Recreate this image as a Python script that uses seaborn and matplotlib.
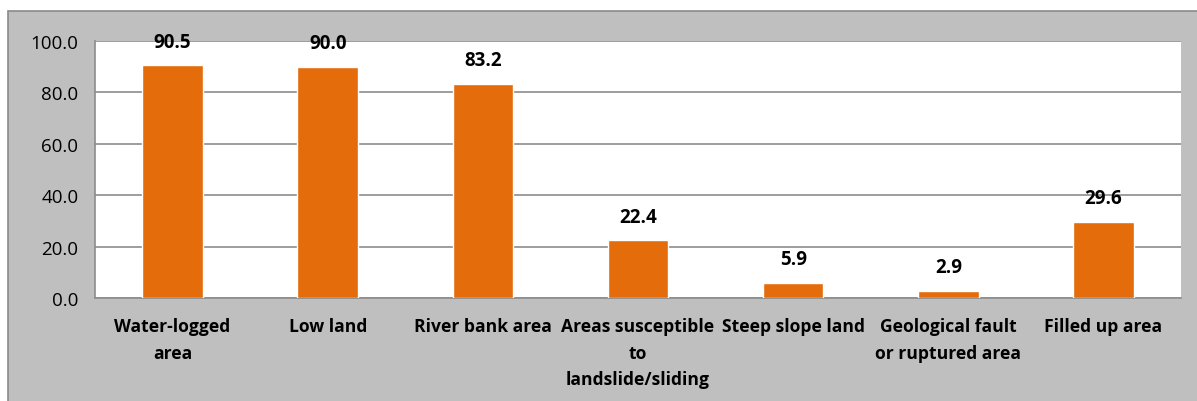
import seaborn as sns
import pandas as pd
import matplotlib.pyplot as plt
from matplotlib.patches import Rectangle
from matplotlib.ticker import FormatStrFormatter

categories = ['Water-logged\narea', 'Low land', 'River bank area',
              'Areas susceptible\nto\nlandslide/sliding', 'Steep slope land',
              'Geological fault\nor ruptured area', 'Filled up area']
values = [90.5, 90.0, 83.2, 22.4, 5.9, 2.9, 29.6]

data = pd.DataFrame({'category': categories, 'value': values})

sns.set_style('white')
plt.rcParams['font.family'] = ['Open Sans', 'DejaVu Sans']
plt.rcParams['text.color'] = 'black'
plt.rcParams['xtick.labelcolor'] = 'black'
plt.rcParams['ytick.labelcolor'] = 'black'

fig = plt.figure(figsize=(11.97, 4.02), dpi=100, facecolor='white')
# grey chart area behind the plot
fig.add_artist(Rectangle((8 / 1197, -0.01), 1.0, 1 - 12 / 402 + 0.01,
                         transform=fig.transFigure, facecolor='#bfbfbf',
                         edgecolor='#8a8a8a', linewidth=1.2, zorder=-5))
ax = fig.add_axes([95 / 1197, 1 - 299 / 402, (1181 - 95) / 1197, (299 - 42) / 402])
ax.set_facecolor('white')

sns.barplot(data=data, x='category', y='value', color='#E46C0A',
            saturation=1, width=0.39, ax=ax, zorder=3)

for i, v in enumerate(values):
    ax.annotate(f'{v:.1f}', (i, v), xytext=(0, 10), textcoords='offset points',
                ha='center', va='bottom', fontsize=13.5, fontweight='bold',
                color='black')

ax.set_ylim(0, 100)
ax.set_xlim(-0.5, len(categories) - 0.5)
ax.set_yticks([0, 20, 40, 60, 80, 100])
ax.yaxis.set_major_formatter(FormatStrFormatter('%.1f'))
ax.grid(axis='y', color='#8c8c8c', linewidth=1.2, zorder=0)
ax.set_axisbelow(True)

ax.set_xticks(range(len(categories)))
ax.set_xticklabels(categories, fontsize=12.6, fontweight='bold', linespacing=1.6)
ax.tick_params(axis='x', which='major', length=0, pad=14)
ax.set_xticks([i - 0.5 for i in range(len(categories) + 1)], minor=True)
ax.tick_params(axis='x', which='minor', length=6, width=1.2, color='#8c8c8c')
ax.tick_params(axis='y', length=7, width=1.2, color='#8c8c8c', labelsize=13.5, pad=5)

for side in ['top', 'right']:
    ax.spines[side].set_visible(False)
for side in ['left', 'bottom']:
    ax.spines[side].set_color('#8c8c8c')
    ax.spines[side].set_linewidth(1.2)

ax.set_xlabel('')
ax.set_ylabel('')

fig.savefig('out.png', dpi=100, facecolor='white')
